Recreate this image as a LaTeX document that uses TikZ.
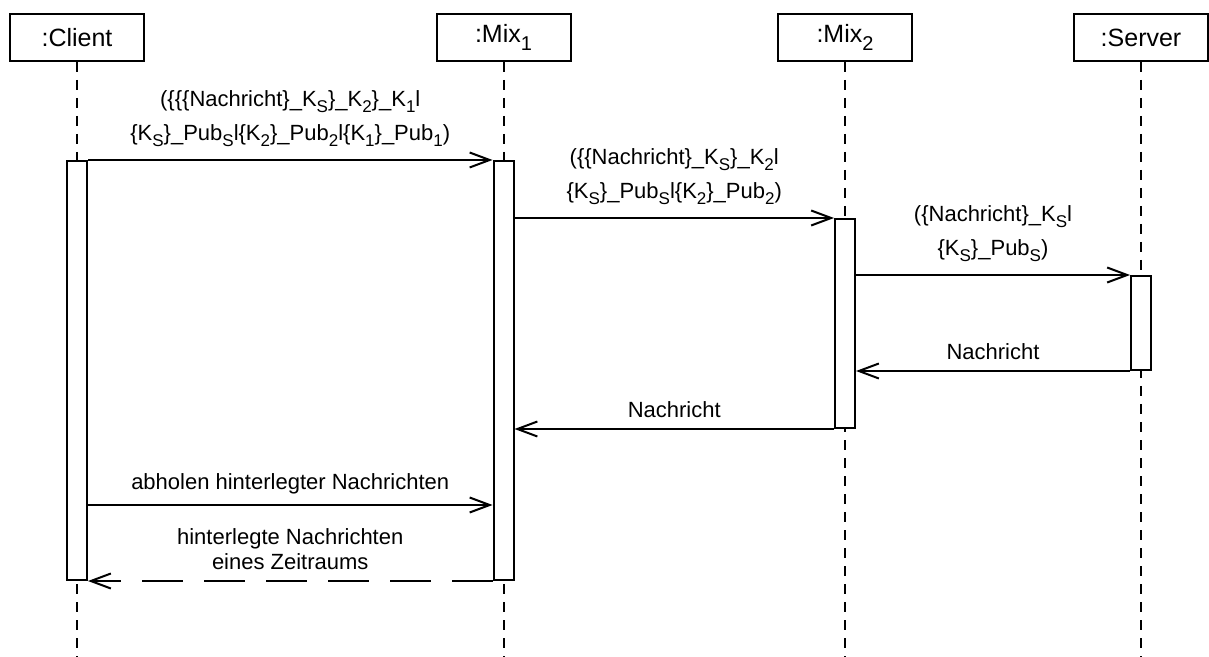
\documentclass[tikz,border=0pt]{standalone}
\usepackage{fontspec}
\setmainfont{Liberation Sans}
\usepackage{tikz}
\usetikzlibrary{arrows.meta}
\tikzset{>={Straight Barb[length=10pt,width=7.5pt]}}
\newcommand{\tief}[2][8.5]{\raisebox{-0.3em}{\fontsize{#1}{#1}\selectfont #2}}

\begin{document}
\begin{tikzpicture}[x=0.5pt,y=-0.5pt,line width=1pt,
                    kopf/.style={draw,fill=white,anchor=north,inner sep=0,minimum width=67pt,minimum height=23.5pt,font=\fontsize{12.5}{14}\selectfont},
                    aktiv/.style={draw,fill=white,anchor=north,inner sep=0,minimum width=10pt},
                    lebenslinie/.style={dash pattern=on 5pt off 4pt},
                    nachricht/.style={->},
                    antwort/.style={->,dash pattern=on 20.5pt off 10.5pt},
                    etikett/.style={align=center,inner sep=3pt,font=\fontsize{11}{12.5}\selectfont},
       ]
       \useasboundingbox (0,0) rectangle (1209,657);
       \coordinate (unten) at (0,657);
       \node[kopf] (client) at (77,13) {:Client};
       \node[kopf] (mix1) at (503.5,13) {:Mix\tief[10]{1}};
       \node[kopf] (mix2) at (845,13) {:Mix\tief[10]{2}};
       \node[kopf] (server) at (1141,13) {:Server};
       \foreach \n in {client,mix1,mix2,server}
           \draw[lebenslinie] (\n.south) -- (\n.south |- unten);
       \node[aktiv,minimum height=209.5pt] (ca) at (77,160) {};
       \node[aktiv,minimum height=209.5pt] (m1a) at (503.5,160) {};
       \node[aktiv,minimum height=104.5pt] (m2a) at (845,218) {};
       \node[aktiv,minimum height=47pt] (sa) at (1141,275) {};
       \coordinate (abholen) at (77,505);
       \draw[nachricht] (ca.north east) -- (m1a.north west)
           node[etikett,midway,above=3pt] {(\{\{\{Nachricht\}\_K\tief{S}\}\_K\tief{2}\}\_K\tief{1}l\\[4.5pt]
                                           \{K\tief{S}\}\_Pub\tief{S}l\{K\tief{2}\}\_Pub\tief{2}l\{K\tief{1}\}\_Pub\tief{1})};
       \draw[nachricht] (m1a.east |- m2a.north) -- (m2a.north west)
           node[etikett,midway,above=3pt] {(\{\{Nachricht\}\_K\tief{S}\}\_K\tief{2}l\\[4.5pt]
                                           \{K\tief{S}\}\_Pub\tief{S}l\{K\tief{2}\}\_Pub\tief{2})};
       \draw[nachricht] (m2a.east |- sa.north) -- (sa.north west)
           node[etikett,midway,above=3pt] {(\{Nachricht\}\_K\tief{S}l\\[4.5pt]
                                           \{K\tief{S}\}\_Pub\tief{S})};
       \draw[nachricht] (sa.south west) -- (m2a.east |- sa.south)
           node[etikett,midway,above=2pt] {Nachricht};
       \draw[nachricht] (m2a.south west) -- (m1a.east |- m2a.south)
           node[etikett,midway,above=2pt] {Nachricht};
       \draw[nachricht] (ca.east |- abholen) -- (m1a.west |- abholen)
           node[etikett,midway,above=2pt] {abholen hinterlegter Nachrichten};
       \draw[antwort] (m1a.south west) -- (ca.south east)
           node[etikett,midway,above=2pt] {hinterlegte Nachrichten\\eines Zeitraums};
\end{tikzpicture}
\end{document}
